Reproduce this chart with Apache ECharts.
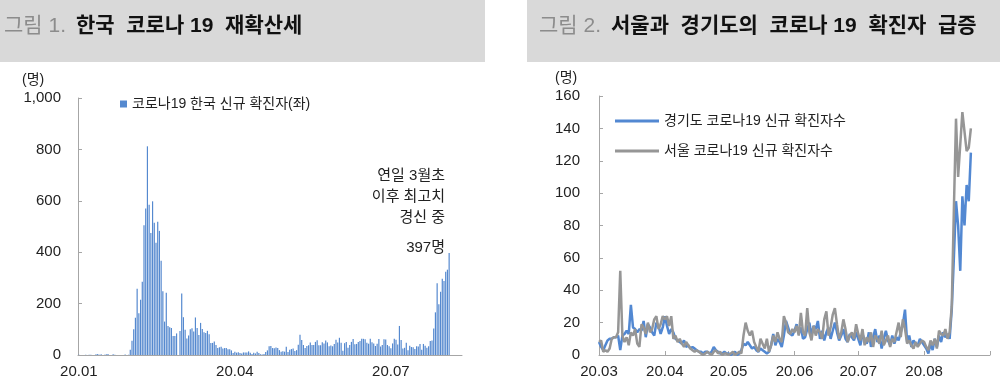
<!DOCTYPE html>
<html>
<head>
<meta charset="utf-8">
<script src="https://cdn.jsdelivr.net/npm/echarts@6/dist/echarts.min.js"></script>
<style>
  html, body { margin: 0; padding: 0; background: #fff; }
  #chart { width: 1000px; height: 390px; }
</style>
</head>
<body>
<div id="chart"></div>
<script>
// 그림 1 : 한국 일별 신규 확진자 (20.01.20 ~ 20.08.23), 축은 08.30까지
let krJanFeb = [1, 0, 0, 0, 1, 0, 1, 1, 0, 0, 3, 4, 1, 3, 0, 1, 3, 4, 0, 0, 3, 1, 0, 0, 0, 0, 0, 2, 0, 1,
  20, 55, 100, 145, 258, 162, 215, 285, 505, 570, 812]
let krMar = [585, 475, 598, 515, 437, 518, 483, 367, 248, 130, 242, 113, 108, 105, 74, 74, 84, 0, 93, 239,
  147, 98, 64, 76, 100, 104, 91, 146, 105, 78, 125]
let krApr = [101, 89, 86, 94, 81, 47, 47, 53, 39, 27, 30, 32, 25, 27, 27, 22, 22, 18, 8, 13, 9, 11, 8, 6, 10, 10, 10, 14, 9, 4]
let krMay = [9, 6, 13, 8, 3, 2, 4, 12, 18, 34, 35, 27, 26, 29, 27, 19, 13, 15, 13, 32, 12, 20, 23, 25, 16, 19, 40, 79, 58, 39, 27]
let krJun = [35, 38, 49, 39, 39, 51, 57, 38, 38, 50, 45, 56, 49, 34, 37, 34, 43, 59, 49, 67, 48, 17, 46, 51, 28, 39, 51, 62, 42, 43]
let krJul = [51, 54, 63, 63, 61, 48, 44, 63, 50, 45, 35, 44, 62, 33, 39, 61, 60, 39, 34, 26, 45, 63, 59, 41, 113, 58, 25, 28, 48, 18, 36]
let krAug = [31, 30, 23, 34, 33, 43, 20, 43, 36, 28, 34, 54, 56, 103, 166, 279, 197, 246, 297, 288, 324, 332, 397]
let leftTickDates = ['2020-01-20', '2020-04-20', '2020-07-20']

// 그림 2 : 경기도 / 서울 일별 신규 확진자 (20.03.01 ~ 20.08.23), 축은 09.01까지
let ggNew = [
  8, 5, 3, 6, 9, 10, 10, 11, 11, 12, 3, 12, 13, 15, 13, 31, 17, 16, 14, 16, 15, 21, 11, 19, 17, 14, 12, 20, 18, 13, 17,
  24, 18, 13, 16, 14, 10, 9, 8, 7, 9, 5, 6, 4, 5, 4, 3, 2, 2, 1, 2, 2, 1, 2, 5, 3, 2, 1, 1, 2, 1,
  1, 0, 1, 2, 0, 1, 3, 7, 6, 8, 6, 4, 5, 3, 2, 4, 3, 2, 1, 2, 6, 13, 6, 10, 8, 5, 12, 21, 17, 13, 12,
  15, 19, 13, 17, 10, 11, 16, 20, 12, 18, 16, 21, 10, 15, 9, 14, 17, 10, 15, 20, 14, 9, 12, 16, 10, 8, 13, 11, 9, 14,
  10, 6, 13, 9, 7, 14, 5, 11, 16, 8, 12, 4, 10, 15, 9, 6, 12, 7, 11, 9, 14, 19, 28, 8, 12, 5, 9, 7, 6, 10, 8,
  6, 4, 1, 7, 3, 10, 5, 12, 8, 14, 11, 13, 10, 28, 60, 95, 80, 52, 98, 80, 105, 95, 125]
let seoulNew = [
  8, 9, 2, 3, 2, 4, 10, 11, 11, 14, 52, 12, 8, 11, 6, 14, 12, 16, 7, 5, 19, 17, 13, 20, 14, 16, 22, 24, 16, 19, 24,
  22, 24, 18, 24, 10, 12, 8, 10, 7, 5, 8, 6, 4, 3, 2, 3, 2, 1, 0, 1, 2, 1, 0, 2, 3, 1, 2, 0, 1, 1,
  0, 1, 2, 0, 1, 2, 1, 12, 20, 15, 12, 15, 8, 5, 2, 10, 7, 4, 10, 2, 6, 12, 8, 14, 10, 8, 24, 20, 14, 13, 16,
  14, 18, 12, 26, 14, 12, 29, 14, 9, 18, 12, 16, 14, 10, 22, 27, 12, 17, 25, 29, 19, 10, 14, 22, 16, 8, 12, 14, 10, 19,
  13, 9, 16, 6, 11, 8, 14, 5, 12, 10, 7, 15, 6, 9, 12, 5, 10, 8, 14, 20, 11, 22, 16, 7, 9, 6, 4, 8, 5, 7, 9,
  8, 5, 3, 9, 6, 10, 4, 15, 13, 12, 16, 10, 14, 30, 90, 146, 110, 130, 150, 138, 126, 128, 140]
let rightTickDates = ['2020-03-01', '2020-04-01', '2020-05-01', '2020-06-01', '2020-07-01', '2020-08-01', '2020-09-01']

let krNew = krJanFeb.concat(krMar, krApr, krMay, krJun, krJul, krAug)

function dateRange (from, to) {
  let out = []
  let d = new Date(from + 'T00:00:00Z')
  let end = new Date(to + 'T00:00:00Z')
  while (d <= end) {
    out.push(d.toISOString().slice(0, 10))
    d = new Date(d.getTime() + 86400000)
  }
  return out
}
function yymm (s) {
  return s.slice(2, 4) + '.' + s.slice(5, 7)
}

let leftDates = dateRange('2020-01-20', '2020-08-30')
let rightDates = dateRange('2020-03-01', '2020-09-01')

let font = '"Liberation Sans", "Noto Sans CJK KR", sans-serif'
let axisGrey = '#a6a6a6'
let textColor = '#222'

// 주석 문구 (오른쪽 정렬, 한 줄씩)
let noteLines = ['연일 3월초', '이후 최고치', '경신 중']
let noteGraphics = noteLines.map((t, i) => ({
  type: 'text', right: 555, top: 168 + i * 21,
  style: { text: t, fontSize: 15, fill: textColor, fontFamily: font }
}))

let titleRich = {
  g: { fontSize: 21, color: '#8c8c8c', fontWeight: 'normal', fontFamily: font },
  b: { fontSize: 21, color: '#111', fontWeight: 'bold', fontFamily: font }
}

let myChart = echarts.init(document.getElementById('chart'))
let option = {
  animation: false,
  textStyle: { fontFamily: font },
  title: [
    {
      text: '{g|그림 1.}  {b|한국  코로나 19  재확산세}',
      left: 4, top: 16, padding: 0,
      textStyle: { fontWeight: 'normal', rich: titleRich }
    },
    {
      text: '{g|그림 2.}  {b|서울과  경기도의  코로나 19  확진자  급증}',
      left: 539, top: 16, padding: 0,
      textStyle: { fontWeight: 'normal', rich: titleRich }
    }
  ],
  graphic: [
    { type: 'rect', z: -1, shape: { x: 0, y: 0, width: 485, height: 62 }, style: { fill: '#d9d9d9' } },
    { type: 'rect', z: -1, shape: { x: 527, y: 0, width: 473, height: 62 }, style: { fill: '#d9d9d9' } },
    { type: 'text', left: 22, top: 73, style: { text: '(명)', fontSize: 14, fill: textColor, fontFamily: font } },
    { type: 'text', left: 555, top: 71, style: { text: '(명)', fontSize: 14, fill: textColor, fontFamily: font } },
    { type: 'text', right: 555, top: 240, style: { text: '397명', fontSize: 15, fill: textColor, fontFamily: font } }
  ].concat(noteGraphics),
  legend: [
    {
      left: 115, top: 92,
      icon: 'rect', itemWidth: 7, itemHeight: 7, itemGap: 6,
      textStyle: { fontSize: 14, color: textColor, fontFamily: font },
      data: ['코로나19 한국 신규 확진자(좌)']
    },
    {
      left: 610, top: 109, orient: 'vertical',
      icon: 'rect', itemWidth: 44, itemHeight: 3, itemGap: 16,
      textStyle: { fontSize: 14, color: textColor, fontFamily: font },
      data: ['경기도 코로나19 신규 확진자수', '서울 코로나19 신규 확진자수']
    }
  ],
  grid: [
    { left: 78, top: 98, width: 384, height: 257 },
    { left: 599, top: 96, width: 391, height: 259 }
  ],
  xAxis: [
    {
      gridIndex: 0,
      type: 'category',
      data: leftDates,
      boundaryGap: true,
      axisLine: { lineStyle: { color: axisGrey } },
      axisTick: { show: false },
      axisLabel: {
        interval: (i, v) => leftTickDates.indexOf(v) >= 0,
        formatter: yymm,
        fontSize: 15, color: textColor, margin: 9
      },
      splitLine: { show: false }
    },
    {
      gridIndex: 1,
      type: 'category',
      data: rightDates,
      boundaryGap: false,
      axisLine: { lineStyle: { color: axisGrey } },
      axisTick: {
        inside: true, length: 4, lineStyle: { color: axisGrey },
        interval: (i, v) => rightTickDates.indexOf(v) >= 0
      },
      axisLabel: {
        interval: (i, v) => rightTickDates.indexOf(v) >= 0 && v !== '2020-09-01',
        formatter: yymm,
        fontSize: 15, color: textColor, margin: 9
      },
      splitLine: { show: false }
    }
  ],
  yAxis: [
    {
      gridIndex: 0,
      type: 'value', min: 0, max: 1000, interval: 200,
      axisLine: { show: true, lineStyle: { color: axisGrey } },
      axisTick: { show: true, inside: true, length: 4, lineStyle: { color: axisGrey } },
      axisLabel: { fontSize: 15, color: textColor, margin: 17 },
      splitLine: { show: false }
    },
    {
      gridIndex: 1,
      type: 'value', min: 0, max: 160, interval: 20,
      axisLine: { show: true, lineStyle: { color: axisGrey } },
      axisTick: { show: true, inside: true, length: 4, lineStyle: { color: axisGrey } },
      axisLabel: { fontSize: 15, color: textColor, margin: 19 },
      splitLine: { show: false }
    }
  ],
  series: [
    {
      name: '코로나19 한국 신규 확진자(좌)',
      type: 'bar',
      xAxisIndex: 0, yAxisIndex: 0,
      barCategoryGap: '30%',
      itemStyle: { color: '#5589cf' },
      data: krNew
    },
    {
      name: '경기도 코로나19 신규 확진자수',
      type: 'line',
      xAxisIndex: 1, yAxisIndex: 1,
      showSymbol: false,
      itemStyle: { color: '#5288d2' },
      lineStyle: { color: '#5288d2', width: 2.5 },
      data: ggNew
    },
    {
      name: '서울 코로나19 신규 확진자수',
      type: 'line',
      xAxisIndex: 1, yAxisIndex: 1,
      showSymbol: false,
      itemStyle: { color: '#969696' },
      lineStyle: { color: '#969696', width: 2.5 },
      data: seoulNew
    }
  ]
}
myChart.setOption(option)
</script>
</body>
</html>
